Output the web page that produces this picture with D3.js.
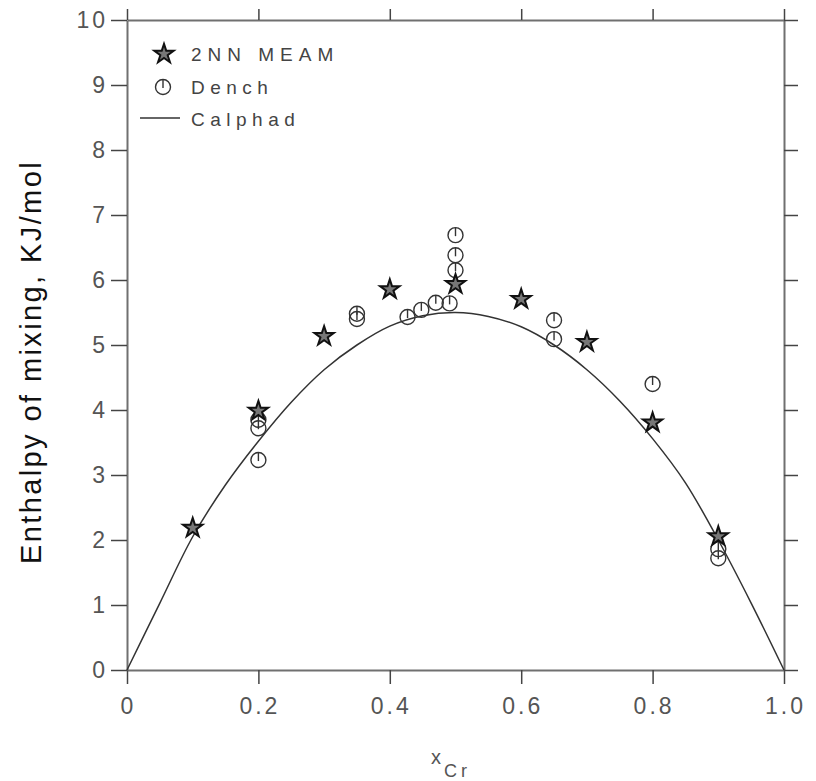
<!DOCTYPE html>
<html>
<head>
<meta charset="utf-8">
<script src="https://cdn.jsdelivr.net/npm/d3@7"></script>
<style>
  body { margin: 0; background: #fff; }
  svg { display: block; font-family: Arial, "Liberation Sans", sans-serif; }
</style>
</head>
<body>
<div id="chart"></div>
<script>
// données
const meamX = [0.1, 0.2, 0.3, 0.4, 0.5, 0.6, 0.7, 0.8, 0.9];
const meamY = [2.2, 4.0, 5.15, 5.87, 5.95, 5.72, 5.06, 3.82, 2.07];

const denchX = [0.2, 0.2, 0.2, 0.35, 0.35, 0.427, 0.448, 0.47, 0.491, 0.5, 0.5, 0.5, 0.65, 0.65, 0.8, 0.9, 0.9];
const denchY = [3.85, 3.72, 3.23, 5.48, 5.40, 5.43, 5.54, 5.65, 5.64, 6.69, 6.38, 6.15, 5.38, 5.09, 4.40, 1.86, 1.72];

const calphadX = [0, 0.05, 0.1, 0.15, 0.2, 0.25, 0.3, 0.35, 0.4, 0.45, 0.5, 0.55, 0.6, 0.65, 0.7, 0.75, 0.8, 0.85, 0.9, 0.95, 1.0];
const calphadY = [0, 1.03, 2.05, 2.85, 3.52, 4.12, 4.62, 5.0, 5.29, 5.45, 5.5, 5.44, 5.28, 5.0, 4.62, 4.14, 3.56, 2.88, 2.0, 1.03, 0];

const xTicks = [0, 0.2, 0.4, 0.6, 0.8, 1.0];
const xTickLabels = ["0", "0.2", "0.4", "0.6", "0.8", "1.0"];
const yTicks = [0, 1, 2, 3, 4, 5, 6, 7, 8, 9, 10];

const width = 816, height = 781;
const plotLeft = 127, plotRight = 784, plotTop = 20, plotBottom = 670;

const svg = d3.select("#chart").append("svg")
    .attr("width", width)
    .attr("height", height);

const x = d3.scaleLinear().domain([0, 1]).range([plotLeft, plotRight]);
const y = d3.scaleLinear().domain([0, 10]).range([plotBottom, plotTop]);

const axisColor = "#707070";
const labelColor = "#555";

// axes (ticks vers l'extérieur sur les 4 côtés)
function styleAxis(g) {
    g.select(".domain").attr("stroke", axisColor).attr("stroke-width", 2);
    g.selectAll(".tick line").attr("stroke", "#444").attr("stroke-width", 1.5);
    g.selectAll(".tick text").remove();
}

svg.append("g").attr("transform", `translate(0,${plotBottom})`)
    .call(d3.axisBottom(x).tickValues(xTicks).tickSize(14).tickSizeOuter(0))
    .call(styleAxis);
svg.append("g").attr("transform", `translate(0,${plotTop})`)
    .call(d3.axisTop(x).tickValues(xTicks).tickSize(11).tickSizeOuter(0))
    .call(styleAxis);
svg.append("g").attr("transform", `translate(${plotLeft},0)`)
    .call(d3.axisLeft(y).tickValues(yTicks).tickSize(16).tickSizeOuter(0))
    .call(styleAxis);
svg.append("g").attr("transform", `translate(${plotRight},0)`)
    .call(d3.axisRight(y).tickValues(yTicks).tickSize(14).tickSizeOuter(0))
    .call(styleAxis);

// étiquettes des graduations
svg.append("g").selectAll("text")
    .data(xTicks)
    .enter().append("text")
    .attr("x", d => x(d) + 1.5)
    .attr("y", 714)
    .attr("text-anchor", "middle")
    .attr("font-size", 23)
    .attr("letter-spacing", 3)
    .attr("fill", labelColor)
    .text((d, i) => xTickLabels[i]);

svg.append("g").selectAll("text")
    .data(yTicks)
    .enter().append("text")
    .attr("x", 108)
    .attr("y", d => y(d) + 8)
    .attr("text-anchor", "end")
    .attr("font-size", 23)
    .attr("letter-spacing", 3)
    .attr("fill", labelColor)
    .text(d => d);

// titres des axes
svg.append("text")
    .attr("transform", "translate(41,362) rotate(-90)")
    .attr("text-anchor", "middle")
    .attr("font-size", 29)
    .attr("letter-spacing", 2.4)
    .attr("fill", "#111")
    .text("Enthalpy of mixing, KJ/mol");

const xt = svg.append("text")
    .attr("x", 431)
    .attr("y", 764)
    .attr("fill", labelColor);
xt.append("tspan").attr("font-size", 20).text("x");
xt.append("tspan").attr("font-size", 18).attr("dy", 13).attr("dx", 3)
    .attr("letter-spacing", 4).text("Cr");

// courbe Calphad
const line = d3.line()
    .x(d => x(d[0]))
    .y(d => y(d[1]))
    .curve(d3.curveCatmullRom);

svg.append("path")
    .datum(calphadX.map((v, i) => [v, calphadY[i]]))
    .attr("d", line)
    .attr("fill", "none")
    .attr("stroke", "#333")
    .attr("stroke-width", 1.5);

// marqueurs
const star = d3.symbol().type(d3.symbolStar).size(115);

function drawDench(g, cx, cy) {
    g.append("circle")
        .attr("cx", cx).attr("cy", cy).attr("r", 7.5)
        .attr("fill", "none").attr("stroke", "#333").attr("stroke-width", 1.4);
    g.append("line")
        .attr("x1", cx).attr("x2", cx)
        .attr("y1", cy - 7.5).attr("y2", cy + 1)
        .attr("stroke", "#333").attr("stroke-width", 1.4);
}

const dench = svg.append("g");
denchX.forEach((v, i) => drawDench(dench, x(v), y(denchY[i])));

svg.append("g").selectAll("path")
    .data(meamX.map((v, i) => [v, meamY[i]]))
    .enter().append("path")
    .attr("d", star)
    .attr("transform", d => `translate(${x(d[0])},${y(d[1]) + 1})`)
    .attr("fill", "#777")
    .attr("stroke", "#111")
    .attr("stroke-width", 2);

// légende
const leg = svg.append("g");
leg.append("path").attr("d", star)
    .attr("transform", "translate(164,54)")
    .attr("fill", "#777").attr("stroke", "#111").attr("stroke-width", 2);
drawDench(leg, 163, 87);
leg.append("line")
    .attr("x1", 140).attr("x2", 180).attr("y1", 118).attr("y2", 118)
    .attr("stroke", "#333").attr("stroke-width", 1.5);

const legendLabels = ["2NN MEAM", "Dench", "Calphad"];
const legendY = [61, 94, 126];
leg.selectAll("text")
    .data(legendLabels)
    .enter().append("text")
    .attr("x", 191)
    .attr("y", (d, i) => legendY[i])
    .attr("font-size", 19)
    .attr("letter-spacing", d => d === "2NN MEAM" ? 6 : 5.5)
    .attr("fill", "#444")
    .text(d => d);
</script>
</body>
</html>
